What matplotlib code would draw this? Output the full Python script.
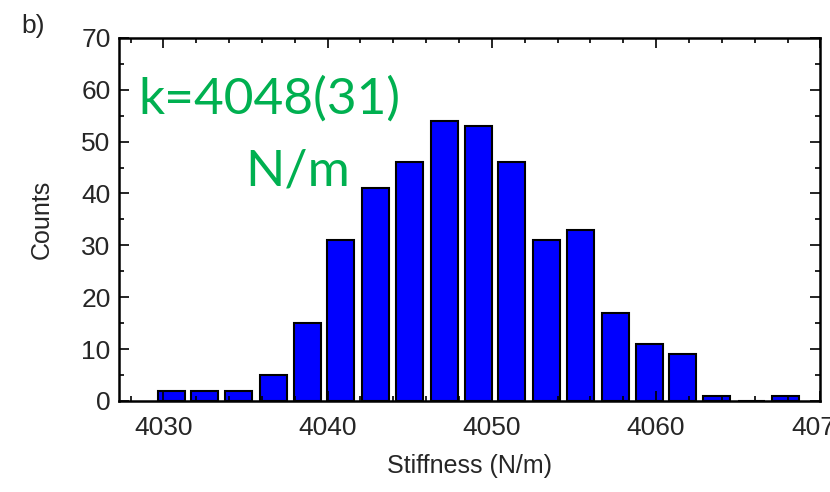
import matplotlib.pyplot as plt
from matplotlib.ticker import MultipleLocator

# Histogram bins (bin centre in N/m, count)
bin_centers = [4030.5, 4032.5, 4034.6, 4036.7, 4038.8, 4040.8, 4042.9, 4045.0,
               4047.1, 4049.2, 4051.2, 4053.3, 4055.4, 4057.5, 4059.6, 4061.6,
               4063.7, 4065.8, 4067.9]
counts = [2, 2, 2, 5, 15, 31, 41, 46, 54, 53, 46, 31, 33, 17, 11, 9, 1, 0, 1]
x_ticks = [4030, 4040, 4050, 4060, 4070]
y_ticks = [0, 10, 20, 30, 40, 50, 60, 70]

plt.rcParams['font.family'] = ['Liberation Sans', 'DejaVu Sans']
tick_color = '#262626'

fig = plt.figure(figsize=(8.3, 4.92), dpi=100)
ax = fig.add_axes([0.1434, 0.185, 0.845, 0.738])

ax.bar(bin_centers, counts, width=1.64, color='#0000ff', edgecolor='black',
       linewidth=1.5, align='center')

ax.set_xlim(4027.3, 4070.0)
ax.set_ylim(0, 70)
ax.set_xticks(x_ticks)
ax.set_yticks(y_ticks)
ax.xaxis.set_minor_locator(MultipleLocator(2))
ax.yaxis.set_minor_locator(MultipleLocator(5))
ax.tick_params(which='both', direction='in', top=True, right=True,
               labelsize=19, labelcolor=tick_color, width=1.2)
ax.tick_params(which='major', length=7, pad=11)
ax.tick_params(which='minor', length=3.5)
ax.tick_params(axis='y', which='major', pad=6)
for side in ax.spines.values():
    side.set_linewidth(1.8)

ax.set_xlabel('Stiffness (N/m)', fontsize=18, color=tick_color, labelpad=10)
ax.set_ylabel('Counts', fontsize=18, color=tick_color, labelpad=20)

# panel letter and the green annotation
fig.text(0.026, 0.948, 'b)', fontsize=19, color=tick_color, ha='left', va='center')
ax.text(4028.5, 55.5, 'k=4048(31)', fontsize=37, color='#00b050',
        family=['Lato', 'DejaVu Sans'], ha='left', va='baseline')
ax.text(4035.0, 41.6, 'N/m', fontsize=37, color='#00b050',
        family=['Lato', 'DejaVu Sans'], ha='left', va='baseline')

plt.savefig('out.png', dpi=100)
plt.close()
